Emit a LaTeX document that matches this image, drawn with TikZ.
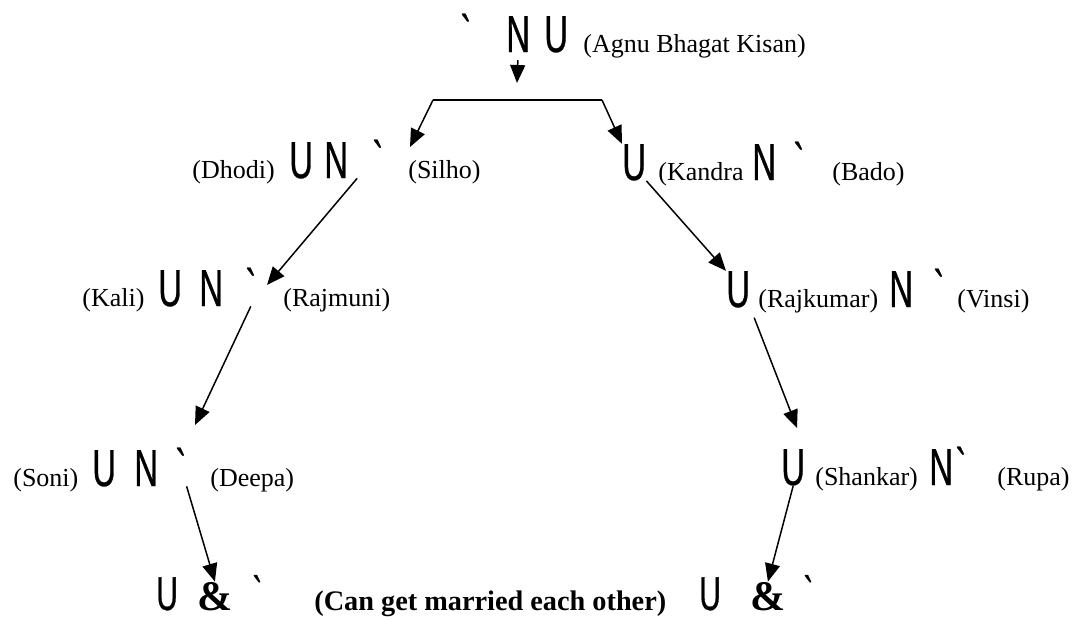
\documentclass[tikz,border=0pt]{standalone}
\usepackage{fontspec}
\setmainfont{Liberation Serif}
\newfontfamily\gsans[FakeStretch=0.63,FakeBold=0.6,Ligatures=TeXOff]{Liberation Sans}
\usepackage{tikz}
\usetikzlibrary{arrows.meta}

\newcommand\glbig{\gsans\fontsize{29.6}{31}\selectfont}
\newcommand\glsmall{\gsans\fontsize{27}{29}\selectfont}
\newcommand\lbfont{\fontsize{14.8}{16}\selectfont}

\tikzset{
	sym/.style={font=\glbig,inner sep=0pt,anchor=base west},
	symsmall/.style={font=\glsmall,inner sep=0pt,anchor=base west},
	lab/.style={font=\lbfont,inner sep=0pt,anchor=base west},
	amp/.style={font=\fontsize{24}{26}\selectfont\bfseries,inner sep=0pt,anchor=base west},
	arr/.style={line width=0.85pt,-{Triangle[length=0.36cm,width=0.3cm]}},
}

\begin{document}
\begin{tikzpicture}[x=0.02cm,y=-0.02cm]
	\useasboundingbox (0,0) rectangle (1078,619);
	
	% top
	\node[sym] (g0) at (460,52) {`};
	\node[sym] (n0) at (506,52) {N};
	\node[sym] (u0) at (544,52) {U};
	\node[lab] (agnu) at (583,52) {(Agnu Bhagat Kisan)};
	
	%-------------------------------------
	\node[lab] (dhodi) at (192,178) {(Dhodi)};
	\node[sym] (u1) at (289,178) {U};
	\node[sym] (n1) at (324,178) {N};
	\node[sym] (g1) at (372,178) {`};
	\node[lab] (silho) at (408,178) {(Silho)};
	
	\node[sym] (u2) at (622,180) {U};
	\node[lab] (kandra) at (658,180) {(Kandra};
	\node[sym] (n2) at (752,180) {N};
	\node[sym] (g2) at (793,180) {`};
	\node[lab] (bado) at (832,180) {(Bado)};
	
	%-------------------------------------
	\node[lab] (kali) at (82,306) {(Kali)};
	\node[sym] (u3) at (158,306) {U};
	\node[sym] (n3) at (199,306) {N};
	\node[sym] (g3) at (245,306) {`};
	\node[lab] (rajmuni) at (283,306) {(Rajmuni)};
	
	\node[sym] (u3r) at (726,307) {U};
	\node[lab] (rajkumar) at (758,307) {(Rajkumar)};
	\node[sym] (n3r) at (889,307) {N};
	\node[sym] (g3r) at (933,307) {`};
	\node[lab] (vinsi) at (957,307) {(Vinsi)};
	
	%-------------------------------------
	\node[lab] (soni) at (13,486) {(Soni)};
	\node[sym] (u4) at (92,486) {U};
	\node[sym] (n4) at (134,486) {N};
	\node[sym] (g4) at (175,486) {`};
	\node[lab] (deepa) at (210,486) {(Deepa)};
	
	\node[sym] (u4r) at (781,485) {U};
	\node[lab] (shankar) at (815,485) {(Shankar)};
	\node[sym] (n4r) at (929,485) {N};
	\node[sym] (g4r) at (955,485) {`};
	\node[lab] (rupa) at (997,485) {(Rupa)};
	
	%-------------------------------------
	\node[symsmall] (u5) at (156,610) {U};
	\node[amp] (amp5) at (197,610) {\&};
	\node[symsmall] (g5) at (252,610) {`};
	\node[lab,font=\fontsize{16.1}{18}\selectfont\bfseries] (note) at (314,610) {(Can get married each other)};
	\node[symsmall] (u5r) at (699,610) {U};
	\node[amp] (amp5r) at (750,610) {\&};
	\node[symsmall] (g5r) at (803,610) {`};
	
	% arrows
	\coordinate (t0) at (517,83);
	\coordinate (bl) at (433,100);
	\coordinate (br) at (602,100);
	\coordinate (t1) at (410,147);
	\coordinate (t3) at (267,285);
	\coordinate (t4) at (195,425);
	\coordinate (t7) at (797,428);
	
	\draw[arr,shorten <=4.5pt] (n0.south) -- (t0);
	\draw[arr] (bl) -- (t1);
	\draw[line width=0.85pt] (bl) -- (br);
	\draw[arr] (br) -- (u2.north west);
	\draw[arr] ([xshift=5pt]n1.south east) -- (t3);
	\draw[arr] (g3.south) -- (t4);
	\draw[arr] (g4.south east) -- (amp5.north);
	\draw[arr] (u2.south east) -- (u3r.north west);
	\draw[arr,shorten <=6pt] (u3r.south east) -- (t7);
	\draw[arr] (u4r.south) -- (amp5r.north);
	
\end{tikzpicture}
\end{document}
